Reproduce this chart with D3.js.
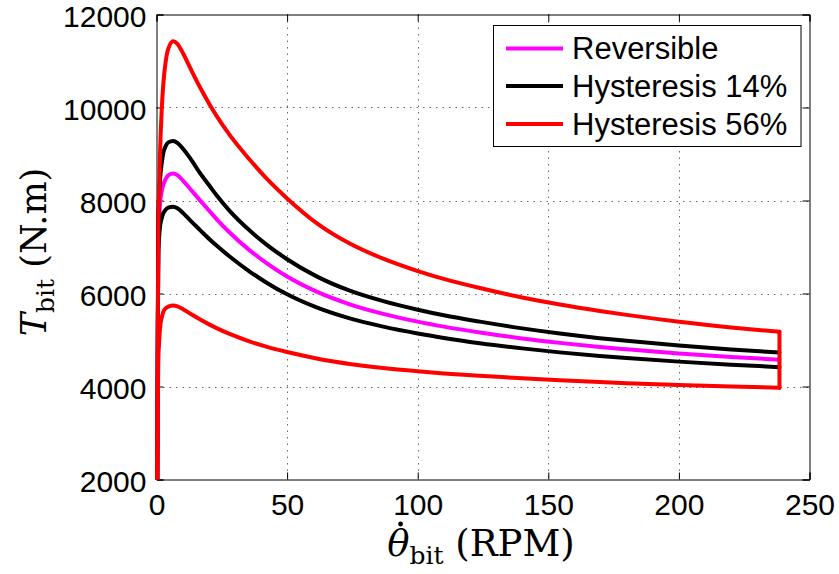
<!DOCTYPE html>
<html>
<head>
<meta charset="utf-8">
<script src="https://cdn.jsdelivr.net/npm/d3@7"></script>
<style>
  html, body { margin: 0; padding: 0; background: #fff; }
  svg { display: block; }
</style>
</head>
<body>
<svg id="chart" width="839" height="574"></svg>
<script>
// ---- data ----
const rpm = [0.3, 0.5, 0.7, 1.0, 1.4, 2, 2.6, 3.5, 4.5, 6.4, 8, 10.3, 13, 16.6, 20.5, 23, 28, 35.8, 42, 50, 61.3, 74, 86.8, 100, 110, 123.8, 140, 154.4, 169.7, 180, 200, 220, 238.5];

const reversible = [2000, 5200, 7100, 7600, 7970, 8200, 8340, 8460, 8540, 8580, 8545, 8418, 8243, 8009, 7759, 7601, 7311, 6921, 6661, 6365, 6040, 5768, 5563, 5395, 5288, 5161, 5034, 4938, 4850, 4800, 4710, 4635, 4575];

const hyst14Upper = [2000, 5500, 7653, 8100, 8480, 8800, 9019, 9170, 9250, 9280, 9240, 9102, 8900, 8594, 8302, 8112, 7777, 7348, 7057, 6737, 6368, 6060, 5835, 5652, 5533, 5395, 5250, 5140, 5040, 4982, 4882, 4797, 4729];

const hyst14Lower = [2000, 5000, 6864, 7200, 7460, 7620, 7726, 7800, 7845, 7865, 7833, 7723, 7566, 7368, 7157, 7030, 6795, 6467, 6238, 5982, 5700, 5464, 5288, 5140, 5045, 4932, 4820, 4734, 4658, 4613, 4535, 4469, 4416];

const hyst56Upper = [2000, 5000, 7366, 8200, 9100, 9950, 10500, 10980, 11260, 11425, 11370, 11150, 10840, 10440, 10050, 9820, 9410, 8870, 8480, 8045, 7515, 7075, 6748, 6483, 6315, 6118, 5915, 5765, 5625, 5540, 5393, 5271, 5175];

const hyst56Lower = [2000, 3600, 4565, 4950, 5282, 5480, 5606, 5680, 5720, 5740, 5721, 5657, 5565, 5446, 5325, 5255, 5130, 4966, 4857, 4741, 4604, 4486, 4397, 4327, 4282, 4230, 4176, 4133, 4095, 4072, 4034, 4001, 3975];

const xTicks = [0, 50, 100, 150, 200, 250];
const yTicks = [2000, 4000, 6000, 8000, 10000, 12000];
const legendLabels = ["Reversible", "Hysteresis 14%", "Hysteresis 56%"];
const legendColors = ["#ff00ff", "#000000", "#ff0000"];

// ---- layout ----
const svg = d3.select("#chart");
const L = 156.5, R = 809.5, T = 14.5, B = 479.5;
const x = d3.scaleLinear().domain([0, 250]).range([L, R]);
const y = d3.scaleLinear().domain([2000, 12000]).range([B, T]);

svg.append("rect").attr("width", 839).attr("height", 574).attr("fill", "#fff");

svg.append("defs").append("clipPath").attr("id", "clip")
  .append("rect").attr("x", L - 3).attr("y", T).attr("width", R - L + 6).attr("height", B - T);

// grid
const grid = svg.append("g").attr("stroke", "#666").attr("stroke-width", 1)
  .attr("stroke-dasharray", "1.5,5");
xTicks.slice(1, -1).forEach(t => {
  grid.append("line").attr("x1", Math.round(x(t)) + 0.5).attr("x2", Math.round(x(t)) + 0.5)
    .attr("y1", T).attr("y2", B);
});
yTicks.slice(1, -1).forEach(t => {
  grid.append("line").attr("y1", Math.round(y(t)) + 0.5).attr("y2", Math.round(y(t)) + 0.5)
    .attr("x1", L).attr("x2", R);
});

// axes (ticks inward on all four sides)
const tickLen = 7;
const axB = d3.axisBottom(x).tickValues(xTicks).tickSize(-tickLen).tickFormat(d3.format("d"));
const axT = d3.axisTop(x).tickValues(xTicks).tickSize(-tickLen).tickFormat("");
const axL = d3.axisLeft(y).tickValues(yTicks).tickSize(-tickLen).tickFormat(d3.format("d"));
const axR = d3.axisRight(y).tickValues(yTicks).tickSize(-tickLen).tickFormat("");

function styleAxis(g) {
  g.selectAll("path").attr("stroke", "#000").attr("stroke-width", 1);
  g.selectAll("line").attr("stroke", "#000").attr("stroke-width", 1);
  g.selectAll("text").attr("fill", "#000")
    .attr("font-family", "'Liberation Sans', Arial, sans-serif").attr("font-size", 30);
}
const gB = svg.append("g").attr("transform", `translate(0,${B})`).call(axB).call(styleAxis);
gB.selectAll("text").attr("dy", "0.71em").attr("y", 14);
svg.append("g").attr("transform", `translate(0,${T})`).call(axT).call(styleAxis);
const gL = svg.append("g").attr("transform", `translate(${L},0)`).call(axL).call(styleAxis);
gL.selectAll("text").attr("dy", "0.4em").attr("x", -10);
svg.append("g").attr("transform", `translate(${R},0)`).call(axR).call(styleAxis);
svg.selectAll(".domain").attr("fill", "none");

// curves
const plot = svg.append("g").attr("clip-path", "url(#clip)");
const line = d3.line().x(d => x(d[0])).y(d => y(d[1])).curve(d3.curveMonotoneX);
function drawSeries(vals, color) {
  plot.append("path").datum(rpm.map((r, i) => [r, vals[i]]))
    .attr("d", line).attr("fill", "none").attr("stroke", color)
    .attr("stroke-width", 4).attr("stroke-linejoin", "round").attr("stroke-linecap", "round");
}
drawSeries(reversible, legendColors[0]);
drawSeries(hyst14Lower, legendColors[1]);
drawSeries(hyst14Upper, legendColors[1]);
drawSeries(hyst56Lower, legendColors[2]);
drawSeries(hyst56Upper, legendColors[2]);
// closing edge of the 56% loop at the last speed
const last = rpm.length - 1;
plot.append("path")
  .datum([[rpm[last], hyst56Lower[last]], [rpm[last], hyst56Upper[last]]])
  .attr("d", d3.line().x(d => x(d[0])).y(d => y(d[1])))
  .attr("fill", "none").attr("stroke", legendColors[2]).attr("stroke-width", 4)
  .attr("stroke-linecap", "round");

// legend
const lg = svg.append("g");
lg.append("rect").attr("x", 493.5).attr("y", 25.5).attr("width", 307.5).attr("height", 121)
  .attr("fill", "#fff").attr("stroke", "#000").attr("stroke-width", 1);
const rowsY = [48.5, 86, 124];
legendLabels.forEach((lab, i) => {
  lg.append("line").attr("x1", 506).attr("x2", 563).attr("y1", rowsY[i]).attr("y2", rowsY[i])
    .attr("stroke", legendColors[i]).attr("stroke-width", 4);
  lg.append("text").attr("x", 572).attr("y", rowsY[i] + 10.5)
    .attr("font-family", "'Liberation Sans', Arial, sans-serif").attr("font-size", 31)
    .attr("fill", "#000").text(lab);
});

// axis labels
const serif = "'DejaVu Serif', 'Liberation Serif', serif";
const xl = svg.append("text").attr("x", 481).attr("y", 556).attr("text-anchor", "middle")
  .attr("font-family", serif).attr("font-size", 37).attr("fill", "#000");
const theta = xl.append("tspan").attr("font-style", "italic").text("\u03B8");
xl.append("tspan").attr("font-size", 25).attr("dy", 8).text("bit");
xl.append("tspan").attr("dy", -8).text(" (RPM)");
// dot above theta (time derivative)
const ext = xl.node().getExtentOfChar(0);
svg.append("circle").attr("cx", ext.x + ext.width * 0.6).attr("cy", ext.y + 2)
  .attr("r", 2.4).attr("fill", "#000");

const yl = svg.append("text").attr("transform", "translate(46,252) rotate(-90)")
  .attr("text-anchor", "middle").attr("font-family", serif).attr("font-size", 35).attr("fill", "#000");
yl.append("tspan").attr("font-style", "italic").text("T");
yl.append("tspan").attr("font-size", 25).attr("dy", 8).text("bit");
yl.append("tspan").attr("dy", -8).text(" (N.m)");
</script>
</body>
</html>
